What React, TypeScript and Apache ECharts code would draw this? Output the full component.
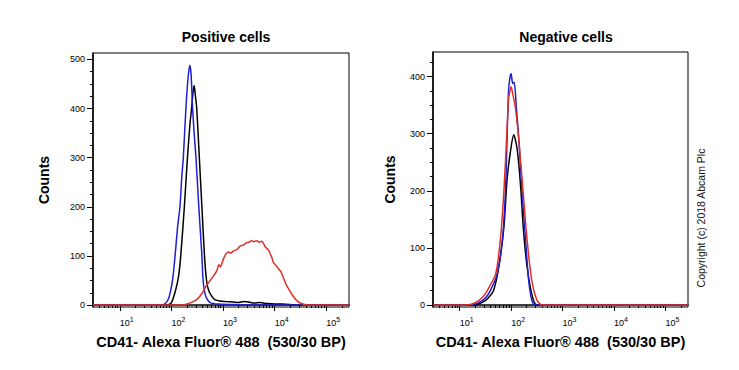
import React, { useEffect, useRef } from "react";
import * as echarts from "echarts";

// x values are log10 of fluorescence intensity; y values are counts
const X_MIN = 0.48;
const X_MAX = 5.44;
const DECADES = [1, 2, 3, 4, 5];

const posBlack: [number, number][] = [[0.48,0],[1.92,0],[2.0,5],[2.08,30],[2.14,60],[2.18,100],[2.25,200],[2.31,300],[2.36,370],[2.39,400],[2.42,435],[2.44,447],[2.46,430],[2.49,400],[2.54,300],[2.59,200],[2.64,100],[2.68,50],[2.72,30],[2.78,18],[2.84,11],[2.94,8],[3.05,7],[3.2,6],[3.3,5],[3.4,7],[3.5,6],[3.6,4],[3.72,5],[3.85,3],[4.0,2],[4.15,2],[4.3,1],[4.4,0],[5.44,0]];
const posBlue: [number, number][] = [[0.48,0],[1.8,0],[1.88,3],[1.95,15],[2.02,50],[2.07,100],[2.12,160],[2.165,200],[2.2,260],[2.23,300],[2.28,400],[2.32,460],[2.355,488],[2.38,470],[2.41,400],[2.44,350],[2.475,300],[2.53,200],[2.56,150],[2.59,100],[2.61,55],[2.64,28],[2.68,14],[2.75,5],[2.9,2],[3.2,1],[3.4,0],[5.44,0]];
const posRed: [number, number][] = [[0.48,0],[2.22,0],[2.3,2],[2.4,6],[2.5,12],[2.6,25],[2.68,40],[2.75,50],[2.82,60],[2.88,70],[2.92,82],[2.95,78],[3.0,92],[3.05,103],[3.1,108],[3.15,106],[3.2,110],[3.27,113],[3.33,120],[3.39,122],[3.44,126],[3.5,128],[3.55,131],[3.6,129],[3.65,131],[3.7,128],[3.75,130],[3.78,126],[3.82,118],[3.86,114],[3.9,108],[3.95,95],[3.98,86],[4.03,80],[4.08,73],[4.12,68],[4.17,55],[4.22,42],[4.27,33],[4.32,24],[4.38,15],[4.44,8],[4.52,3],[4.62,0],[5.44,0]];

const negBlack: [number, number][] = [[0.48,0],[1.3,0],[1.45,5],[1.55,12],[1.66,26],[1.76,67],[1.86,137],[1.92,219],[1.99,271],[2.05,298],[2.08,290],[2.12,271],[2.18,213],[2.24,131],[2.31,67],[2.4,20],[2.5,0],[5.44,0]];
const negBlue: [number, number][] = [[0.48,0],[1.2,0],[1.35,3],[1.5,12],[1.6,26],[1.73,55],[1.83,114],[1.89,201],[1.92,289],[1.95,376],[1.98,400],[2.0,405],[2.03,388],[2.06,390],[2.1,347],[2.15,289],[2.21,201],[2.28,114],[2.34,44],[2.4,9],[2.46,0],[5.44,0]];
const negRed: [number, number][] = [[0.48,0],[1.12,0],[1.3,4],[1.45,14],[1.54,26],[1.7,55],[1.79,114],[1.86,201],[1.91,289],[1.95,360],[1.985,378],[2.0,382],[2.03,370],[2.08,347],[2.15,289],[2.23,201],[2.31,114],[2.4,44],[2.5,9],[2.6,0],[5.44,0]];

const POS_Y_MAJOR = [0, 100, 200, 300, 400, 500];
const POS_Y_MINOR = [25, 50, 75, 125, 150, 175, 225, 250, 275, 325, 350, 375, 425, 450, 475];
const NEG_Y_MAJOR = [0, 100, 200, 300, 400];
const NEG_Y_MINOR = [25, 50, 75, 125, 150, 175, 225, 250, 275, 325, 350, 375, 425];

const TITLES = ["Positive cells", "Negative cells"];
const X_NAME = "CD41- Alexa Fluor\u00ae 488  (530/30 BP)";
const Y_NAME = "Counts";
const COPYRIGHT = "Copyright (c) 2018 Abcam Plc";

const BLACK = "#000000";
const BLUE = "#1f1fd2";
const RED = "#e0302a";
const FONT = "'Liberation Sans', Arial, sans-serif";

const minorX: number[] = [];
for (let n = 0; n <= 5; n++) {
  for (let k = 2; k <= 9; k++) {
    const v = Math.log10(k * Math.pow(10, n));
    if (v > X_MIN && v < X_MAX) minorX.push(v);
  }
}

export default function App() {
  const ref = useRef<HTMLDivElement>(null);
  useEffect(() => {
    if (!ref.current) return;
    const chart = echarts.init(ref.current, null, { renderer: "svg" });
    const grids = [
      { left: 93, top: 53, width: 256, height: 254 },
      { left: 433, top: 52, width: 255, height: 255 },
    ];
    const yRanges = [
      { min: -4, max: 513, major: POS_Y_MAJOR, minor: POS_Y_MINOR, gap: 42 },
      { min: -3.5, max: 443, major: NEG_Y_MAJOR, minor: NEG_Y_MINOR, gap: 36 },
    ];
    const xAxes: any[] = [];
    const yAxes: any[] = [];
    grids.forEach((_, i) => {
      xAxes.push({
        type: "value", gridIndex: i, min: X_MIN, max: X_MAX, position: "bottom",
        name: X_NAME, nameLocation: "middle", nameGap: 27,
        nameTextStyle: { fontFamily: FONT, fontSize: 14.5, fontWeight: "bold", color: BLACK },
        axisLine: { show: true, lineStyle: { color: BLACK, width: 1.5 } },
        axisTick: { show: true, customValues: DECADES, length: 6, lineStyle: { color: BLACK, width: 1 } },
        axisLabel: {
          show: true, customValues: DECADES, margin: 9, align: "left",
          formatter: (v: number) => `{b|10}{s|${Math.round(v)}}`,
          rich: {
            b: { fontFamily: FONT, fontSize: 9, color: BLACK },
            s: { fontFamily: FONT, fontSize: 7, color: BLACK, padding: [0, 0, 7, 0] },
          },
        },
        splitLine: { show: false },
      });
      xAxes.push({
        type: "value", gridIndex: i, min: X_MIN, max: X_MAX, position: "bottom",
        axisLine: { show: false },
        axisTick: { show: true, customValues: minorX, length: 3, lineStyle: { color: BLACK, width: 1 } },
        axisLabel: { show: false },
        splitLine: { show: false },
      });
      const yr = yRanges[i];
      yAxes.push({
        type: "value", gridIndex: i, min: yr.min, max: yr.max, position: "left",
        name: Y_NAME, nameLocation: "middle", nameGap: yr.gap, nameRotate: 90,
        nameTextStyle: { fontFamily: FONT, fontSize: 14, fontWeight: "bold", color: BLACK },
        axisLine: { show: true, lineStyle: { color: BLACK, width: 1.5 } },
        axisTick: { show: true, customValues: yr.major, length: 6, lineStyle: { color: BLACK } },
        axisLabel: { show: true, customValues: yr.major, margin: 8, fontFamily: FONT, fontSize: 9, color: BLACK },
        splitLine: { show: false },
      });
      yAxes.push({
        type: "value", gridIndex: i, min: yr.min, max: yr.max, position: "left",
        axisLine: { show: false },
        axisTick: { show: true, customValues: yr.minor, length: 3, lineStyle: { color: BLACK } },
        axisLabel: { show: false },
        splitLine: { show: false },
      });
    });
    const mk = (data: [number, number][], color: string, gi: number) => ({
      type: "line", xAxisIndex: gi * 2, yAxisIndex: gi * 2, data, showSymbol: false, symbol: "none",
      smooth: 0.25, lineStyle: { color, width: 1.5 }, silent: true,
    });
    chart.setOption({
      animation: false,
      backgroundColor: "#ffffff",
      title: [
        { text: TITLES[0], left: 221, top: 25, textAlign: "center", textStyle: { fontFamily: FONT, fontSize: 14, fontWeight: "bold", color: BLACK } },
        { text: TITLES[1], left: 561, top: 25, textAlign: "center", textStyle: { fontFamily: FONT, fontSize: 14, fontWeight: "bold", color: BLACK } },
      ],
      grid: grids.map((g) => ({ ...g, show: true, borderColor: BLACK, borderWidth: 1, backgroundColor: "transparent" })),
      xAxis: xAxes,
      yAxis: yAxes,
      series: [
        mk(posBlack, BLACK, 0), mk(posBlue, BLUE, 0), mk(posRed, RED, 0),
        mk(negBlack, BLACK, 1), mk(negBlue, BLUE, 1), mk(negRed, RED, 1),
      ],
      graphic: [
        {
          type: "text", x: 701, y: 218, rotation: Math.PI / 2,
          style: { text: COPYRIGHT, fontFamily: FONT, fontSize: 10.5, fill: "#111", align: "center", verticalAlign: "middle" },
        },
      ],
    });
    return () => chart.dispose();
  }, []);
  return <div ref={ref} style={{ position: "absolute", left: 0, top: 0, width: 739, height: 370 }} />;
}
